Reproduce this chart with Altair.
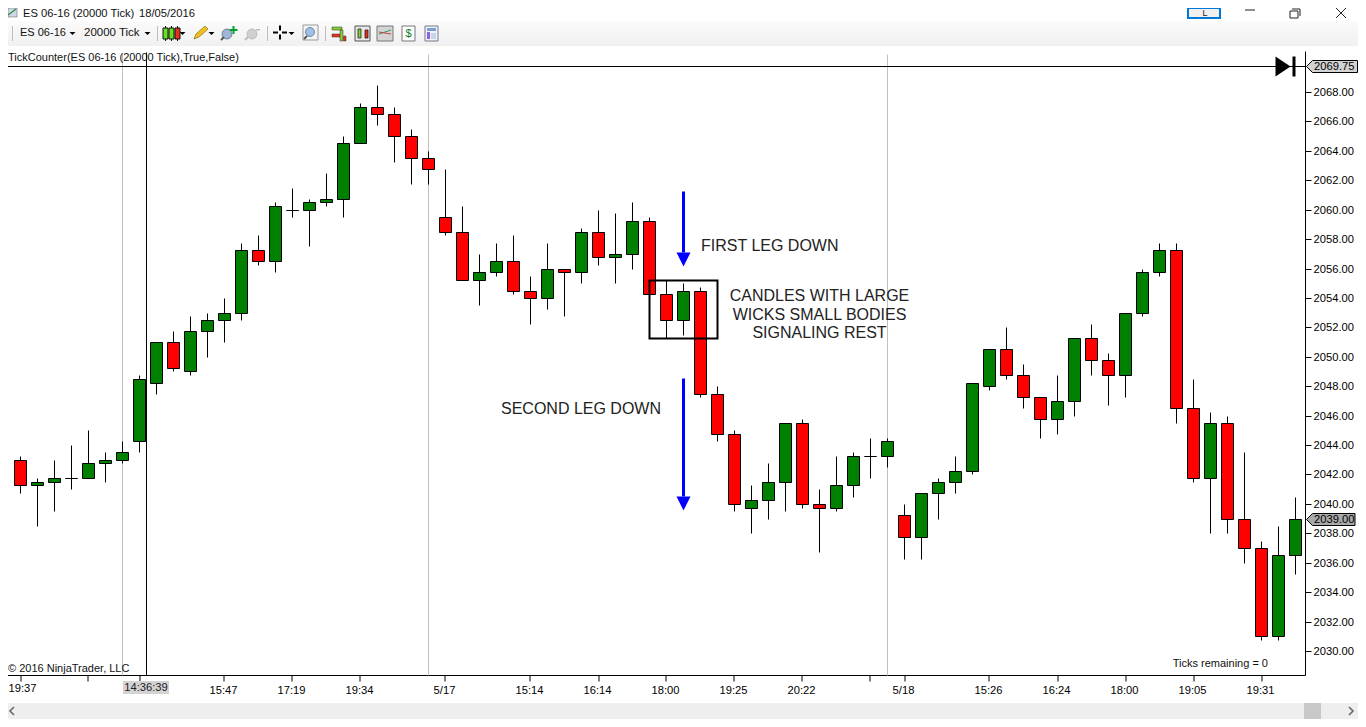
import altair as alt
import pandas as pd

# ---- candle values (price points)
opens = [2043, 2041.25, 2041.5, 2041.75, 2041.75, 2042.75, 2043, 2044.25, 2048.25, 2051, 2049, 2051.75, 2052.5, 2053,
         2057.25, 2056.5, 2060, 2060, 2060.5, 2060.75, 2064.5, 2067, 2066.5, 2065, 2063.5, 2059.5, 2058.5, 2055.25,
         2055.75, 2056.5, 2054.5, 2054, 2056, 2055.75, 2058.5, 2056.75, 2057, 2059.25, 2054.25, 2052.5, 2054.5, 2047.5,
         2044.75, 2039.75, 2040.25, 2041.5, 2045.5, 2040, 2039.75, 2041.25, 2043.25, 2043.25, 2039.25, 2037.75, 2040.75,
         2041.5, 2042.25, 2048, 2050.5, 2048.75, 2047.25, 2045.75, 2047, 2051.25, 2049.75, 2048.75, 2053, 2055.75,
         2057.25, 2046.5, 2041.75, 2045.5, 2039, 2037, 2031, 2036.5]
closes = [2041.25, 2041.5, 2041.75, 2041.75, 2042.75, 2043, 2043.5, 2048.5, 2051, 2049.25, 2051.75, 2052.5, 2053, 2057.25,
          2056.5, 2060.25, 2060, 2060.5, 2060.75, 2064.5, 2067, 2066.5, 2065, 2063.5, 2062.75, 2058.5, 2055.25, 2055.75,
          2056.5, 2054.5, 2054, 2056, 2055.75, 2058.5, 2056.75, 2057, 2059.25, 2054.25, 2052.5, 2054.5, 2047.5, 2044.75,
          2040, 2040.25, 2041.5, 2045.5, 2040, 2039.75, 2041.25, 2043.25, 2043.25, 2044.25, 2037.75, 2040.75, 2041.5,
          2042.25, 2048.25, 2050.5, 2048.75, 2047.25, 2045.75, 2047, 2051.25, 2049.75, 2048.75, 2053, 2055.75, 2057.25,
          2046.5, 2041.75, 2045.5, 2039, 2037, 2031, 2036.5, 2039]
highs = [2043.25, 2041.75, 2043, 2044, 2045, 2043.5, 2044.25, 2048.75, 2051, 2051.75, 2052.75, 2053, 2054, 2057.75,
         2058.25, 2060.5, 2061.5, 2060.75, 2062.5, 2065, 2067.25, 2068.5, 2067, 2065.5, 2064, 2062.75, 2060.25, 2057,
         2057.75, 2058.25, 2055.5, 2057.75, 2056, 2058.75, 2060, 2059.75, 2060.5, 2059.5, 2055.25, 2055, 2054.75, 2048,
         2045, 2041.25, 2042.75, 2045.5, 2045.75, 2041, 2043.25, 2043.5, 2044.5, 2044.5, 2040, 2040.75, 2041.75,
         2043.25, 2048.25, 2050.5, 2052, 2049.5, 2047.25, 2048.75, 2051.25, 2052.25, 2050.25, 2053, 2056, 2057.75,
         2057.75, 2048.5, 2046.25, 2046, 2043.5, 2037.5, 2038.5, 2040.5]
lows = [2040.75, 2038.5, 2039.5, 2041, 2041.75, 2041.5, 2042.75, 2043.5, 2047.5, 2049, 2048.75, 2050, 2051, 2052.5,
        2056.25, 2055.75, 2059.5, 2057.5, 2060.25, 2059.5, 2064.5, 2065.75, 2063.25, 2061.75, 2061.75, 2058.25, 2055.25,
        2053.5, 2055.5, 2054.25, 2052.25, 2053.25, 2052.75, 2055, 2056.25, 2055, 2056, 2054.25, 2051.25, 2051.5, 2047.25,
        2044.25, 2039.5, 2038, 2039, 2039.5, 2039.75, 2036.75, 2039.5, 2040.5, 2041.75, 2042.5, 2036.25, 2036.25, 2039,
        2040.75, 2042, 2047.75, 2048.5, 2046.5, 2044.5, 2044.75, 2046, 2048.75, 2046.75, 2047.25, 2052.75, 2055.5,
        2045.5, 2041.5, 2038, 2038, 2036, 2030.75, 2030.75, 2035.25]

tick_idx = [0, 4, 7, 12, 16, 20, 25, 30, 34, 38, 42, 46, 50, 52, 57, 61, 65, 69, 73]
tick_txt = ["", "", "", "15:47", "17:19", "19:34", "5/17", "15:14", "16:14", "18:00", "19:25", "20:22", "", "5/18",
            "15:26", "16:24", "18:00", "19:05", "19:31"]
first_time = "19:37"
price_ticks = list(range(2030, 2070, 2))
session_lines = [6, 24, 51]
cross_idx = 7.41176
last_price = 2069.75
close_price = 2039.0

GREEN, RED, FONT = "#008000", "#ff0000", "Liberation Sans"

# ---- layout: view occupies page x 8..1305.5, y 51.5..675.5 (half pixels keep 1px strokes sharp)
VW, VH = 1297.5, 624
X0, Y0 = 8, 51.5
Y_2068 = 92.5
xs = alt.Scale(domain=[(8 - 20.5) / 17, (1305.5 - 20.5) / 17], nice=False, zero=False, padding=0)
ys = alt.Scale(domain=[2068 - (675.5 - Y_2068) / 14.71, 2068 - (51.5 - Y_2068) / 14.71], nice=False, zero=False, padding=0, round=True)

label_map = ",".join(f"'{i}':'{t}'" for i, t in zip(tick_idx, tick_txt))
x_axis = alt.Axis(values=tick_idx, labelExpr="{" + label_map + "}[datum.value]", labelFont=FONT, labelFontSize=11.2,
                  labelColor="#000", tickColor="#000", domainColor="#000", tickSize=6, labelPadding=3, grid=False,
                  labelOverlap=False, labelFlush=False, labelAngle=0, domainWidth=1, title=None, translate=0, labelOffset=-1)
y_axis = alt.Axis(orient="right", values=price_ticks, format=".2f", labelFont=FONT, labelFontSize=11.2, labelColor="#000",
                  tickColor="#000", domainColor="#000", tickSize=6, labelPadding=2, grid=False, labelOverlap=False,
                  labelFlush=False, domainWidth=1, title=None, translate=0)

def X(f="i"):
    return alt.X(f"{f}:Q", scale=xs, axis=x_axis)

def Y(f):
    return alt.Y(f"{f}:Q", scale=ys, axis=y_axis)

n = len(opens)
df = pd.DataFrame({
    "i": range(n), "o": opens, "c": closes, "h": highs, "l": lows,
    "dir": ["up" if c >= o else "down" for o, c in zip(opens, closes)],
})

layers = []

# ---- window chrome (page-pixel helpers)
def rect(x1, y1, x2, y2, fill, stroke=None, sw=0):
    kw = {"fill": fill, "strokeWidth": sw}
    if stroke:
        kw["stroke"] = stroke
    return alt.Chart(pd.DataFrame({"a": [0]})).mark_rect(**kw).encode(
        x=alt.value(x1 - X0), x2=alt.value(x2 - X0), y=alt.value(y1 - Y0), y2=alt.value(y2 - Y0))

def line(x1, y1, x2, y2, color="#000", w=1.0):
    return alt.Chart(pd.DataFrame({"a": [0]})).mark_rule(color=color, strokeWidth=w).encode(
        x=alt.value(x1 - X0), x2=alt.value(x2 - X0), y=alt.value(y1 - Y0), y2=alt.value(y2 - Y0))

def label(x, y, s, size=11.5, align="left", color="#111"):
    return alt.Chart(pd.DataFrame({"t": [s]})).mark_text(font=FONT, fontSize=size, align=align, baseline="middle", color=color).encode(
        x=alt.value(x - X0), y=alt.value(y - Y0), text="t:N")

def glyph(x, y, path, fill="#000", stroke=None, sw=0):
    kw = {"shape": path, "size": 4, "filled": True, "fill": fill, "opacity": 1, "strokeWidth": sw}
    if stroke:
        kw["stroke"] = stroke
    return alt.Chart(pd.DataFrame({"a": [0]})).mark_point(**kw).encode(x=alt.value(x - X0), y=alt.value(y - Y0))

# toolbar band and scrollbar
layers.append(alt.Chart(pd.DataFrame({"a": [0]})).mark_rect(
    fill=alt.Gradient(gradient="linear", x1=0, y1=0, x2=0, y2=1,
                      stops=[alt.GradientStop(offset=0, color="#fbfbfb"), alt.GradientStop(offset=1, color="#f0f0f0")])
).encode(x=alt.value(0), x2=alt.value(1350), y=alt.value(21 - Y0), y2=alt.value(46 - Y0)))
layers.append(rect(8, 703, 1358, 719, "#eeeeee"))
layers.append(rect(1304, 703, 1321, 719, "#c8c8c8"))
layers.append(glyph(11, 711, "M3,-4 L-1,0 L3,4", "none", "#666", 1.6))
layers.append(glyph(1352, 711, "M-3,-4 L1,0 L-3,4", "none", "#666", 1.6))

# title row (pushed a few pixels down: the page margin hides the top 8px)
layers.append(rect(8, 8, 17, 17, "#cfd8ea", "#555", 0.5))
layers.append(line(8, 15, 16, 9, "#2a8a3c", 1.2))
layers.append(label(23, 14, "ES 06-16 (20000 Tick)", 11.2))
layers.append(label(139, 14, "18/05/2016", 11.2))
layers.append(rect(1188, 8, 1220, 18, "#f0f0f0", "#0078d7", 2))
layers.append(label(1205, 13, "L", 9, "center", "#222"))
layers.append(line(1245, 10, 1255, 10, "#222", 1))
layers.append(rect(1290, 11, 1298, 18, "#fff", "#222", 1))
layers.append(line(1292, 9, 1300, 9, "#222", 1))
layers.append(line(1300, 9, 1300, 16, "#222", 1))
layers.append(glyph(1341, 13, "M-5,-5 L5,5 M-5,5 L5,-5", "none", "#222", 1))

# toolbar text, separators
layers.append(label(20, 32.5, "ES 06-16", 11))
layers.append(label(84, 32.5, "20000 Tick", 11.5))
for px in (12, 157, 267, 325):
    layers.append(line(px + .5, 26, px + .5, 41, "#bdbdbd", 1))
arrow_down = "M-3,0 L3,0 L0,3 Z"
for px in (72, 147, 182, 211, 291):
    layers.append(glyph(px + .5, 32, arrow_down))

# toolbar icons: candles, pencil, magnifiers, crosshair, panels
for px, col in ((165, "#66e020"), (171, "#66e020"), (177, "#e83020")):
    layers.append(line(px + .5, 26, px + .5, 41, "#111", 1))
    layers.append(rect(px - 2, 28, px + 3, 39, col, "#111", 1))
layers.append(glyph(194, 39, "M0,0 L2,-5 L11,-13 L14,-10 L5,-2 Z", "#f0c020", "#8a6a10", 0.7))
layers.append(glyph(227, 34, "M-5,0 A5,5 0 1,1 5,0 A5,5 0 1,1 -5,0 Z", "#9fb6d6", "#5c7088", 0.8))
layers.append(line(221, 40, 224, 37, "#555", 2))
layers.append(rect(232.5, 26, 234.5, 34, "#00a030"))
layers.append(rect(229.5, 29, 237.5, 31, "#00a030"))
layers.append(glyph(252, 34, "M-5,0 A5,5 0 1,1 5,0 A5,5 0 1,1 -5,0 Z", "#d0d0d0", "#b4b4b4", 0.8))
layers.append(line(245, 40, 248, 37, "#bbb", 2))
layers.append(rect(256, 29, 260, 30.5, "#bbb"))
for a, b, c, d in ((273, 32, 278, 32), (282, 32, 287, 32), (280, 25, 280, 30), (280, 34, 280, 39)):
    layers.append(line(a, b + .5, c, d + .5, "#000", 2))
layers.append(rect(303, 25, 318, 40, "#f4f4f4", "#999", 1))
layers.append(glyph(310, 32, "M-4.5,0 A4.5,4.5 0 1,1 4.5,0 A4.5,4.5 0 1,1 -4.5,0 Z", "#9fc0e6", "#5c7088", 0.8))
layers.append(line(304, 39, 307, 36, "#555", 2))
layers.append(rect(332, 27, 342, 30, "#7fd030", "#333", 0.5))
layers.append(rect(332, 34, 341, 37, "#e83020", "#333", 0.5))
layers.append(rect(340, 30, 343, 41, "#7fd030", "#333", 0.5))
layers.append(rect(343.5, 36, 346, 41, "#e83020", "#333", 0.5))
layers.append(rect(355, 26, 370, 41, "#e6e6e6", "#555", 1))
layers.append(rect(358, 29, 361, 38, "#7fd030", "#111", 0.7))
layers.append(rect(365, 30, 368, 38, "#e83020", "#111", 0.7))
layers.append(rect(377, 26, 393, 41, "#d4d4d4", "#777", 1))
layers.append(line(379, 34, 391, 30, "#2a9a5a", 1))
layers.append(line(379, 32, 391, 34, "#d04040", 1))
layers.append(rect(402, 26, 415, 41, "#fff", "#777", 1))
layers.append(label(408.5, 34, "$", 11, "center", "#0a7a20"))
layers.append(rect(425, 26, 438, 41, "#eef2fa", "#778", 1))
layers.append(rect(427, 28, 436, 31, "#7b9fd0"))
layers.append(rect(427, 32, 430, 39, "#9060e0"))
layers.append(rect(431, 33, 436, 39, "#c8d4e8"))

# session separators (behind candles)
layers.append(alt.Chart(pd.DataFrame({"i": session_lines})).mark_rule(color="#c0c0c0", strokeWidth=1).encode(
    x=X(), y=alt.value(3), y2=alt.value(VH)))

# wicks and bodies, carrying the axes
layers.append(alt.Chart(df).mark_rule(color="#000", strokeWidth=1).encode(
    x=X(), y=Y("l"), y2="h:Q"))
layers.append(alt.Chart(df).mark_bar(size=12, stroke="#000", strokeWidth=1, orient="vertical").encode(
    x=X(), y=Y("o"), y2="c:Q",
    color=alt.Color("dir:N", legend=None, scale=alt.Scale(domain=["up", "down"], range=[GREEN, RED]))))

# cursor crosshair
layers.append(alt.Chart(pd.DataFrame({"i": [cross_idx]})).mark_rule(color="#000", strokeWidth=1).encode(
    x=X(), y=alt.value(1), y2=alt.value(VH)))
layers.append(alt.Chart(pd.DataFrame({"p": [last_price]})).mark_rule(color="#000", strokeWidth=1).encode(
    y=Y("p"), x=alt.value(0), x2=alt.value(VW)))

# annotations in data space
layers.append(alt.Chart(pd.DataFrame({"a": [37], "b": [41], "p": [2051.25], "q": [2055.25]})).mark_rect(
    fill=None, stroke="#000", strokeWidth=2).encode(x=X("a"), x2="b:Q", y=Y("p"), y2="q:Q"))
arrows = pd.DataFrame({"i": [39, 39], "top": [2061.27, 2048.56], "base": [2057.15, 2040.55], "tip": [2056.19, 2039.6]})
layers.append(alt.Chart(arrows).mark_rule(color="#0000ff", strokeWidth=3).encode(x=X(), y=Y("top"), y2="base:Q"))
layers.append(alt.Chart(arrows).mark_point(shape="M-7,-14 L7,-14 L0,0 Z", size=4, filled=True, fill="#0000ff", opacity=1, strokeWidth=0).encode(
    x=X(), y=Y("tip")))

notes = pd.DataFrame({
    "t": ["FIRST LEG DOWN", "SECOND LEG DOWN"],
    "i": [(701 - 20.5) / 17, (501 - 20.5) / 17],
    "p": [2068 - (246 - Y_2068) / 14.71, 2068 - (408.5 - Y_2068) / 14.71]})
layers.append(alt.Chart(notes).mark_text(font=FONT, fontSize=16, align="left", baseline="middle", color="#222").encode(
    x=X(), y=Y("p"), text="t:N"))
notes2 = pd.DataFrame({
    "t": ["CANDLES WITH LARGE", "WICKS SMALL BODIES", "SIGNALING REST"],
    "i": [(819.5 - 20.5) / 17] * 3,
    "p": [2068 - (y - Y_2068) / 14.71 for y in (295.5, 314, 332.5)]})
layers.append(alt.Chart(notes2).mark_text(font=FONT, fontSize=16, align="center", baseline="middle", color="#222").encode(
    x=X(), y=Y("p"), text="t:N"))

# indicator label, copyright, ticks remaining, first time label (kept inside the page margin)
layers.append(label(8, 58, "TickCounter(ES 06-16 (20000 Tick),True,False)", 11))
layers.append(label(8, 669, "© 2016 NinjaTrader, LLC", 11))
layers.append(label(1268, 664, "Ticks remaining = 0", 11, "right"))
layers.append(label(8.5, 689, first_time, 11.2, "left", "#000"))

# end-of-line marker
layers.append(alt.Chart(pd.DataFrame({"p": [last_price]})).mark_point(
    shape="M0,-10 L15,0 L0,10 Z M17,-10 L20,-10 L20,10 L17,10 Z", size=4, filled=True, fill="#000", opacity=1, strokeWidth=0).encode(
    x=alt.value(1275.5 - X0), y=Y("p")))

# price markers on the axis
def price_tag(price, width, fill):
    d = pd.DataFrame({"p": [price], "t": [f"{price:.2f}"]})
    tag = alt.Chart(d).mark_point(
        shape=f"M0,0 L6,-6 L{width},-6 L{width},6 L6,6 Z", size=4, filled=True, fill=fill, stroke="#000", strokeWidth=1, opacity=1
    ).encode(x=alt.value(1306.5 - X0), y=Y("p"))
    txt = alt.Chart(d).mark_text(font=FONT, fontSize=11.2, align="left", baseline="middle", color="#000").encode(
        x=alt.value(1314 - X0), y=Y("p"), text="t:N")
    return [tag, txt]

layers += price_tag(last_price, 51, "#d3d3d3")
layers += price_tag(close_price, 48.5, "#a9a9a9")

# cursor time label
layers.append(rect(123, 681, 169, 694, "#d3d3d3"))
layers.append(label(146, 688, "14:36:39", 11.2, "center", "#222"))

chart = alt.layer(*layers).properties(
    width=VW, height=VH,
    padding={"left": 0, "top": Y0 - 8, "right": 52.5, "bottom": 43.5},
    autosize=alt.AutoSizeParams(type="none"),
    background="#ffffff",
).configure_view(stroke=None)

chart.save("out.html", embed_options={"renderer": "svg", "actions": False})
